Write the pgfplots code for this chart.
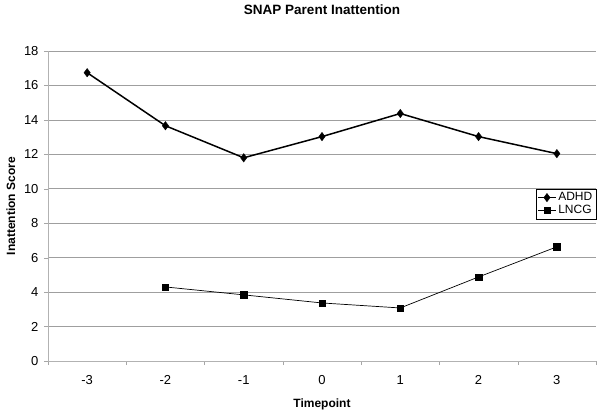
\documentclass[border=0pt]{standalone}
\usepackage{pgfplots}
\pgfplotsset{compat=1.18}
\usepackage{fontspec}
\setmainfont{Liberation Sans}
\begin{document}
\begin{tikzpicture}[x=1pt,y=1pt]
\useasboundingbox (-48,-52) rectangle (553,361);
\begin{axis}[
  at={(0,0)}, anchor=south west,
  scale only axis, width=548pt, height=310pt,
  xmin=-3.5, xmax=3.5, ymin=0, ymax=18,
  xtick={-3,-2,-1,0,1,2,3},
  xticklabels={-3,-2,-1,0,1,2,3},
  minor xtick={-3.5,-2.5,-1.5,-0.5,0.5,1.5,2.5,3.5},
  major x tick style={draw=none},
  minor x tick style={gray!70, thin},
  ytick={0,2,...,18},
  ymajorgrids, grid style={gray!75, line width=0.6pt},
  axis x line*=bottom, axis y line*=left,
  axis line style={gray!60, line width=0.8pt, -},
  tick align=outside, major tick length=4pt, minor tick length=4pt,
  y tick style={gray!70},
  tick label style={font=\fontsize{13}{15}\selectfont},
  /pgf/number format/assume math mode=true,
  xticklabel style={yshift=-7pt},
  yticklabel style={xshift=-2pt},
  xlabel={\bfseries Timepoint}, ylabel={\bfseries Inattention Score},
  xlabel style={font=\fontsize{12}{14}\selectfont, yshift=-7pt},
  ylabel style={font=\fontsize{12}{14}\selectfont, yshift=2pt},
  title={\bfseries SNAP Parent Inattention},
  title style={font=\fontsize{13.5}{15}\selectfont, yshift=27pt},
  legend style={at={(1,0.555)}, anchor=north east, draw=black, line width=0.5pt,
    font=\fontsize{12}{14}\selectfont, inner sep=1.5pt, row sep=-1pt,
    legend cell align=left},
  legend image post style={sharp plot},
]
\addplot[black, line width=1.5pt, mark=diamond*, mark size=4.2pt, mark options={line width=0.4pt}]
  coordinates {(-3,16.74) (-2,13.66) (-1,11.8) (0,13.03) (1,14.37) (2,13.03) (3,12.04)};
\addlegendentry{ADHD}
\addplot[black, line width=0.7pt, mark=square*, mark size=3.2pt, mark options={line width=0.4pt}]
  coordinates {(-2,4.30) (-1,3.84) (0,3.37) (1,3.08) (2,4.88) (3,6.63)};
\addlegendentry{LNCG}
\end{axis}
\end{tikzpicture}
\end{document}
